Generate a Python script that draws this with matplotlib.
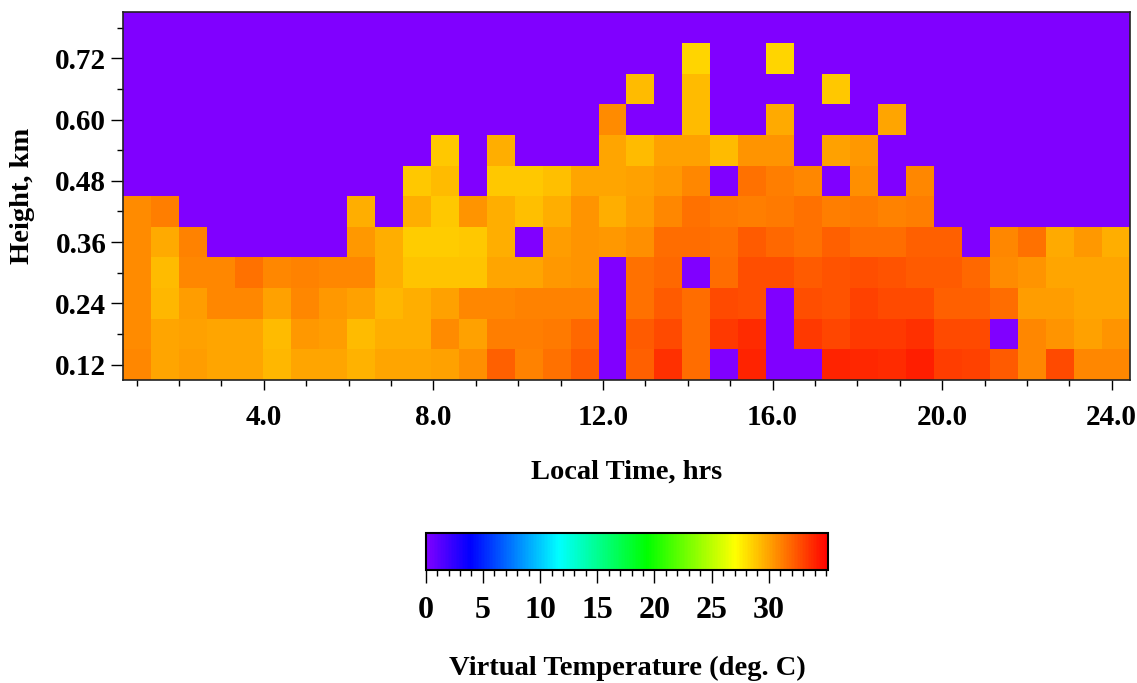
import numpy as np
import matplotlib
matplotlib.use('Agg')
import matplotlib.pyplot as plt
from matplotlib.colors import LinearSegmentedColormap
from matplotlib.ticker import MultipleLocator, FormatStrFormatter

# Alturas de cada fila (km), de arriba hacia abajo
alturas = [0.78, 0.72, 0.66, 0.60, 0.54, 0.48, 0.42, 0.36, 0.30, 0.24, 0.18, 0.12]

# Hora local: inicio y fin del eje de tiempo (36 perfiles)
hora_inicio = 0.68
hora_fin = 24.43

# Temperatura virtual (deg. C), una fila por altura (arriba -> abajo), 0 = sin dato
tv_078 = [0] * 36
tv_072 = [0, 0, 0, 0, 0, 0, 0, 0, 0, 0, 0, 0, 0, 0, 0, 0, 0, 0, 0, 0,
          28.4, 0, 0, 28.4, 0, 0, 0, 0, 0, 0, 0, 0, 0, 0, 0, 0]
tv_066 = [0, 0, 0, 0, 0, 0, 0, 0, 0, 0, 0, 0, 0, 0, 0, 0, 0, 0,
          29.2, 0, 29.2, 0, 0, 0, 0, 28.8, 0, 0, 0, 0, 0, 0, 0, 0, 0, 0]
tv_060 = [0, 0, 0, 0, 0, 0, 0, 0, 0, 0, 0, 0, 0, 0, 0, 0, 0,
          30.7, 0, 0, 29.2, 0, 0, 29.8, 0, 0, 0, 29.9, 0, 0, 0, 0, 0, 0, 0, 0]
tv_054 = [0, 0, 0, 0, 0, 0, 0, 0, 0, 0, 0,
          28.8, 0, 29.7, 0, 0, 0, 29.9, 29.2, 30.1, 30.1, 29.2, 30.4, 30.4, 0, 30.1, 30.3,
          0, 0, 0, 0, 0, 0, 0, 0, 0]
tv_048 = [0, 0, 0, 0, 0, 0, 0, 0, 0, 0,
          28.8, 29.2, 0, 28.8, 28.8, 29.1, 29.9, 29.9, 30.1, 30.3, 30.9, 0, 31.5, 31.2,
          30.8, 0, 30.6, 0, 30.8, 0, 0, 0, 0, 0, 0, 0]
tv_042 = [30.7, 31.2, 0, 0, 0, 0, 0, 0, 29.6, 0, 29.6, 28.8, 30.5, 29.7, 29.1, 29.6,
          30.4, 29.6, 30.2, 30.9, 31.5, 31.3, 31.2, 31.3, 31.5, 31.2, 31.3, 31.0, 31.2,
          0, 0, 0, 0, 0, 0, 0]
tv_036 = [30.7, 29.8, 31.0, 0, 0, 0, 0, 0, 30.3, 29.7, 28.7, 28.7, 28.8, 29.7, 0, 30.2,
          30.4, 30.3, 30.6, 31.7, 31.7, 31.5, 32.3, 31.8, 31.5, 32.1, 31.7, 31.7, 32.1,
          32.1, 0, 30.8, 31.6, 29.8, 30.3, 29.7]
tv_030 = [30.7, 29.2, 30.9, 30.9, 31.5, 30.9, 31.0, 30.9, 30.8, 29.7, 28.9, 29.0, 28.9,
          29.9, 29.9, 30.3, 30.5, 0, 31.5, 31.9, 0, 31.7, 32.7, 32.6, 32.3, 32.5, 32.6,
          32.5, 32.3, 32.2, 31.8, 30.7, 30.4, 29.9, 29.9, 29.9]
tv_024 = [30.7, 29.3, 30.2, 30.8, 30.8, 30.1, 30.9, 30.3, 30.1, 29.3, 29.6, 30.1, 30.8,
          30.9, 31.0, 31.0, 31.0, 0, 31.6, 32.3, 31.7, 32.8, 32.7, 0, 32.6, 32.5, 33.1,
          32.8, 32.8, 32.1, 32.1, 31.7, 30.2, 30.2, 29.9, 29.9]
tv_018 = [30.7, 29.9, 30.0, 29.9, 29.9, 29.2, 30.3, 30.2, 29.2, 29.7, 29.7, 30.7, 30.1,
          31.2, 31.2, 31.3, 31.8, 0, 32.3, 32.8, 31.7, 33.3, 33.8, 0, 33.3, 33.0, 33.3,
          33.4, 33.6, 32.8, 32.8, 0, 30.8, 30.4, 30.1, 30.4]
tv_012 = [30.8, 29.9, 30.2, 29.9, 29.9, 29.3, 29.9, 29.9, 29.5, 29.9, 29.9, 30.1, 30.6,
          32.1, 31.0, 31.6, 32.3, 0, 32.1, 33.6, 31.7, 0, 34.0, 0, 0, 34.0, 33.9, 33.8,
          34.2, 33.2, 33.1, 32.3, 30.9, 32.8, 30.9, 30.8]

temp_virtual = np.array([tv_078, tv_072, tv_066, tv_060, tv_054, tv_048, tv_042,
                         tv_036, tv_030, tv_024, tv_018, tv_012])

# Ordenar de abajo hacia arriba
alt = np.array(alturas)[::-1]
datos = temp_virtual[::-1]

# Bordes de las celdas
n_filas, n_cols = datos.shape
bordes_x = np.linspace(hora_inicio, hora_fin, n_cols + 1)
paso_y = alt[1] - alt[0]
bordes_y = np.concatenate([alt - paso_y / 2, [alt[-1] + paso_y / 2]])

# Paleta: violeta -> azul -> cian -> verde -> amarillo -> rojo
paleta = LinearSegmentedColormap.from_list(
    'arcoiris',
    [(0.0, '#8000ff'), (0.11, '#0000ff'), (0.33, '#00ffff'),
     (0.55, '#00ff00'), (0.77, '#ffff00'), (1.0, '#ff0000')])
vmin, vmax = 0, 35.2

plt.rcParams['font.family'] = ['Liberation Serif', 'DejaVu Serif']
plt.rcParams['font.weight'] = 'bold'

fig = plt.figure(figsize=(11.37, 6.83), dpi=100)
ax = fig.add_axes([0.1082, 0.4436, 0.8856, 0.5384])

malla = ax.pcolormesh(bordes_x, bordes_y, datos, cmap=paleta, vmin=vmin, vmax=vmax,
                      shading='flat')
ax.set_xlim(hora_inicio, hora_fin)
ax.set_ylim(bordes_y[0], bordes_y[-1])

ax.xaxis.set_major_locator(MultipleLocator(4))
ax.xaxis.set_minor_locator(MultipleLocator(1))
ax.xaxis.set_major_formatter(FormatStrFormatter('%.1f'))
ax.yaxis.set_major_locator(MultipleLocator(0.12))
ax.yaxis.set_minor_locator(MultipleLocator(0.06))
ax.yaxis.set_major_formatter(FormatStrFormatter('%.2f'))

ax.tick_params(axis='x', which='major', length=7.5, width=1, pad=10, labelsize=21)
ax.tick_params(axis='x', which='minor', length=4, width=1)
ax.tick_params(axis='y', which='major', length=9, width=1, pad=3, labelsize=21)
ax.tick_params(axis='y', which='minor', length=4.5, width=1)
for lado in ax.spines.values():
    lado.set_linewidth(1.2)
    lado.set_color('#222222')

ax.set_xlabel('Local Time, hrs', fontsize=20.5, fontweight='bold', va='center')
ax.xaxis.set_label_coords(0.5, -0.25)
ax.set_ylabel('Height, km', fontsize=20.5, fontweight='bold', va='center')
ax.yaxis.set_label_coords(-0.1003, 0.5)

# Barra de colores
cax = fig.add_axes([0.3744, 0.1654, 0.3541, 0.0542])
barra = fig.colorbar(malla, cax=cax, orientation='horizontal')
barra.set_ticks([0, 5, 10, 15, 20, 25, 30])
barra.ax.xaxis.set_minor_locator(MultipleLocator(1))
barra.ax.tick_params(which='major', length=9, width=1, pad=10, labelsize=23)
barra.ax.tick_params(which='minor', length=4, width=1)
barra.outline.set_linewidth(1.5)
barra.set_label('Virtual Temperature (deg. C)', fontsize=20.5, fontweight='bold',
                va='center')
barra.ax.xaxis.set_label_coords(0.5, -2.65)

plt.savefig('out.png', dpi=100)
